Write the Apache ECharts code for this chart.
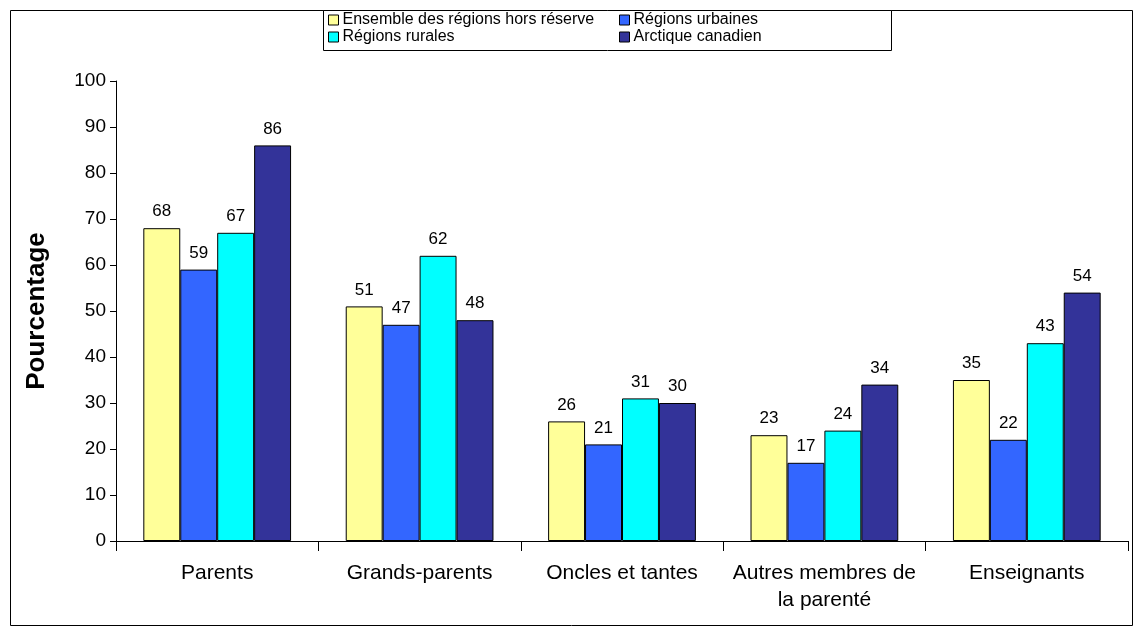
<!DOCTYPE html>
<html><head><meta charset="utf-8">
<script src="https://cdn.jsdelivr.net/npm/echarts@6/dist/echarts.min.js"></script>
<style>html,body{margin:0;padding:0;background:#fff}#c{width:1135px;height:628px}</style>
</head><body><div id="c"></div>
<script>
const categories = ['Parents', 'Grands-parents', 'Oncles et tantes', 'Autres membres de\nla parenté', 'Enseignants'];
const seriesNames = ['Ensemble des régions hors réserve', 'Régions urbaines', 'Régions rurales', 'Arctique canadien'];
const ensemble = [68, 51, 26, 23, 35];
const urbaines = [59, 47, 21, 17, 22];
const rurales = [67, 62, 31, 24, 43];
const arctique = [86, 48, 30, 34, 54];
const yTicks = [0, 10, 20, 30, 40, 50, 60, 70, 80, 90, 100];
const colors = ['#FFFF99', '#3366FF', '#00FFFF', '#333399'];
const values = [ensemble, urbaines, rurales, arctique];
const FONT = '"Liberation Sans", Arial, sans-serif';

const chart = echarts.init(document.getElementById('c'), null, {renderer: 'canvas'});
const legendBase = {
  orient: 'vertical', top: 12, padding: 0, itemGap: 1, itemWidth: 10, itemHeight: 10,
  icon: 'rect', textStyle: {fontFamily: FONT, fontSize: 16, color: '#000', padding: [0, 0, 0, -1]},
  itemStyle: {borderColor: '#000', borderWidth: 1}
};
chart.setOption({
  animation: false,
  graphic: [
    {type: 'rect', shape: {x: 10.5, y: 10.5, width: 1122, height: 615}, style: {fill: 'none', stroke: '#000', lineWidth: 1}, z: -10},
    {type: 'rect', shape: {x: 323.5, y: 10.5, width: 568, height: 40}, style: {fill: '#fff', stroke: '#000', lineWidth: 1}, z: -5}
  ],
  legend: [
    Object.assign({}, legendBase, {left: 328, data: [seriesNames[0], seriesNames[2]]}),
    Object.assign({}, legendBase, {left: 619, data: [seriesNames[1], seriesNames[3]]})
  ],
  grid: {left: 116, right: 7, top: 81, bottom: 87, containLabel: false},
  xAxis: {
    type: 'category', data: categories,
    axisLine: {lineStyle: {color: '#000', width: 1}},
    axisTick: {show: true, length: 10, lineStyle: {color: '#000'}},
    axisLabel: {color: '#000', fontFamily: FONT, fontSize: 21, margin: 19, lineHeight: 27, interval: 0}
  },
  yAxis: {
    type: 'value', min: 0, max: 100, interval: 10,
    name: 'Pourcentage', nameLocation: 'middle', nameGap: 66,
    nameTextStyle: {fontFamily: FONT, fontSize: 26, fontWeight: 'bold', color: '#000'},
    axisLine: {show: true, lineStyle: {color: '#000', width: 1}},
    axisTick: {show: true, length: 6, lineStyle: {color: '#000'}},
    axisLabel: {color: '#000', fontFamily: FONT, fontSize: 19, margin: 10,
      formatter: v => (yTicks.indexOf(v) >= 0 ? String(v) : '')},
    splitLine: {show: false}
  },
  series: seriesNames.map((n, i) => ({
    name: n, type: 'bar', data: values[i],
    barGap: 0, barCategoryGap: '27%',
    itemStyle: {color: colors[i], borderColor: '#000', borderWidth: 1},
    label: {show: true, position: 'top', distance: 8, color: '#000', fontFamily: FONT, fontSize: 17}
  }))
});
</script></body></html>
